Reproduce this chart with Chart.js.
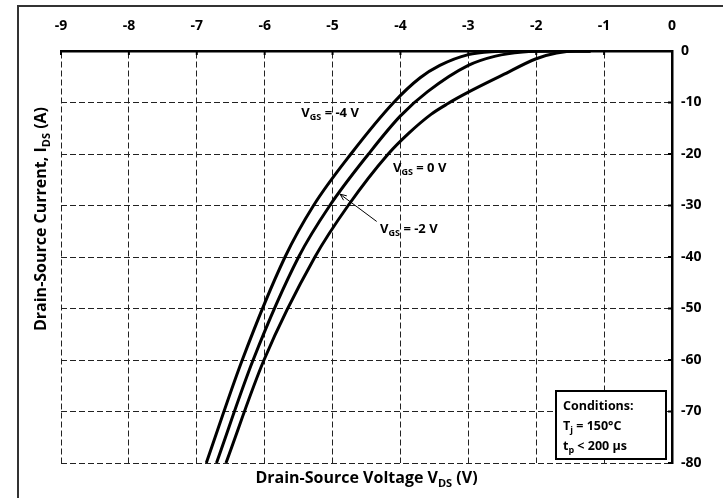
<!DOCTYPE html>
<html>
<head>
<meta charset="utf-8">
<script src="https://cdn.jsdelivr.net/npm/chart.js@4.4.1/dist/chart.umd.min.js"></script>
<style>
  html, body { margin: 0; padding: 0; background: #fff; }
  #wrap { position: relative; width: 723px; height: 498px; }
</style>
</head>
<body>
<div id="wrap"><canvas id="ivChart"></canvas></div>
<script>
// ── Datos ────────────────────────────────────────────────────────────
const xTicks = [-9, -8, -7, -6, -5, -4, -3, -2, -1, 0];
const yTicks = [0, -10, -20, -30, -40, -50, -60, -70, -80];

// VGS = -4 V (curva izquierda)
const vdsNeg4 = [-6.86, -6.33, -5.70, -5.28, -4.73, -4.10, -3.71, -3.42, -3.00, -2.60, -2.28, -1.20];
const idsNeg4 = [-80, -60, -40, -30, -20, -10, -5.2, -2.8, -0.7, -0.1, 0, 0];

// VGS = -2 V (curva central)
const vdsNeg2 = [-6.71, -6.17, -5.50, -5.04, -4.47, -4.00, -3.60, -3.00, -2.60, -2.20, -1.75, -1.20];
const idsNeg2 = [-80, -60, -40, -30, -20, -12.6, -7.9, -2.8, -1.0, -0.2, 0, 0];

// VGS = 0 V (curva derecha)
const vds0 = [-6.57, -6.01, -5.26, -4.77, -4.18, -3.88, -3.55, -3.30, -3.00, -2.50, -2.00, -1.70, -1.42, -1.20];
const ids0 = [-80, -60, -40, -30, -20, -16, -12.3, -10.2, -8.0, -4.7, -1.5, -0.4, 0, 0];

// Etiquetas de las curvas (posición en unidades de datos)
const curveLabels = [
  { main: 'V', sub: 'GS', rest: ' = -4 V', x: -5.46, y: -11.9 },
  { main: 'V', sub: 'GS', rest: ' = 0 V',  x: -4.11, y: -22.5 },
  { main: 'V', sub: 'GS', rest: ' = -2 V', x: -4.30, y: -34.4 }
];
const arrowFrom = { x: -4.35, y: -33.1 };
const arrowTo   = { x: -4.89, y: -27.8 };

const conditions = [
  [{ t: 'Conditions:' }],
  [{ t: 'T' }, { t: 'j', sub: true }, { t: ' = 150°C' }],
  [{ t: 't' }, { t: 'p', sub: true }, { t: ' < 200 µs' }]
];

const FONT = '"Open Sans", Lato, sans-serif';

function toPoints(xs, ys) {
  return xs.map((x, i) => ({ x, y: ys[i] })).sort((a, b) => a.x - b.x);
}

// Dibuja texto con subíndices
function drawRich(ctx, parts, x, y, size, align) {
  const subSize = Math.round(size * 0.68);
  let total = 0;
  parts.forEach(p => {
    ctx.font = 'bold ' + (p.sub ? subSize : size) + 'px ' + FONT;
    p.w = ctx.measureText(p.t).width;
    total += p.w;
  });
  let cx = align === 'center' ? x - total / 2 : x;
  ctx.textBaseline = 'alphabetic';
  ctx.textAlign = 'left';
  parts.forEach(p => {
    ctx.font = 'bold ' + (p.sub ? subSize : size) + 'px ' + FONT;
    ctx.fillText(p.t, cx, p.sub ? y + size * 0.22 : y);
    cx += p.w;
  });
}

const decorPlugin = {
  id: 'decor',
  beforeDraw(chart) {
    const ctx = chart.ctx;
    ctx.save();
    ctx.strokeStyle = '#333';
    ctx.lineWidth = 2;
    ctx.beginPath();
    ctx.moveTo(18, 498);
    ctx.lineTo(18, 6);
    ctx.lineTo(723, 6);
    ctx.stroke();
    ctx.restore();
  },
  afterDatasetsDraw(chart) {
    const ctx = chart.ctx;
    const xs = chart.scales.x, ys = chart.scales.y;
    const area = chart.chartArea;
    ctx.save();
    ctx.fillStyle = '#000';

    // marcas internas en los ejes
    ctx.strokeStyle = '#000';
    ctx.lineWidth = 2;
    xTicks.forEach(v => {
      const px = xs.getPixelForValue(v);
      ctx.beginPath(); ctx.moveTo(px, area.top); ctx.lineTo(px, area.top + 4); ctx.stroke();
    });
    yTicks.forEach(v => {
      const py = ys.getPixelForValue(v);
      ctx.beginPath(); ctx.moveTo(area.right, py); ctx.lineTo(area.right - 4, py); ctx.stroke();
    });

    // títulos de ejes
    drawRich(ctx, [{ t: 'Drain-Source Voltage V' }, { t: 'DS', sub: true }, { t: ' (V)' }],
      (area.left + area.right) / 2, 483, 16, 'center');
    ctx.save();
    ctx.translate(46, 219);
    ctx.rotate(-Math.PI / 2);
    drawRich(ctx, [{ t: 'Drain-Source Current, I' }, { t: 'DS', sub: true }, { t: ' (A)' }],
      0, 0, 16, 'center');
    ctx.restore();

    // etiquetas de curvas
    curveLabels.forEach(l => {
      drawRich(ctx, [{ t: l.main }, { t: l.sub, sub: true }, { t: l.rest }],
        xs.getPixelForValue(l.x), ys.getPixelForValue(l.y) + 5, 13, 'left');
    });

    // flecha
    const ax0 = xs.getPixelForValue(arrowFrom.x), ay0 = ys.getPixelForValue(arrowFrom.y);
    const ax1 = xs.getPixelForValue(arrowTo.x),   ay1 = ys.getPixelForValue(arrowTo.y);
    ctx.lineWidth = 1;
    ctx.beginPath(); ctx.moveTo(ax0, ay0); ctx.lineTo(ax1, ay1); ctx.stroke();
    const ang = Math.atan2(ay1 - ay0, ax1 - ax0);
    ctx.beginPath();
    ctx.moveTo(ax1 - 7 * Math.cos(ang - 0.4), ay1 - 7 * Math.sin(ang - 0.4));
    ctx.lineTo(ax1, ay1);
    ctx.lineTo(ax1 - 7 * Math.cos(ang + 0.4), ay1 - 7 * Math.sin(ang + 0.4));
    ctx.stroke();

    // cuadro de condiciones
    const bx = area.right - 116, by = area.bottom - 72, bw = 110, bh = 68;
    ctx.fillStyle = '#fff';
    ctx.fillRect(bx, by, bw, bh);
    ctx.lineWidth = 2;
    ctx.strokeRect(bx, by, bw, bh);
    ctx.fillStyle = '#000';
    conditions.forEach((line, i) => {
      drawRich(ctx, line, bx + 7, by + 19 + i * 20, 12.5, 'left');
    });
    ctx.restore();
  }
};

const lineStyle = {
  showLine: true,
  borderColor: '#000',
  borderWidth: 3,
  pointRadius: 0,
  cubicInterpolationMode: 'monotone',
  fill: false
};

new Chart(document.getElementById('ivChart'), {
  type: 'scatter',
  data: {
    datasets: [
      Object.assign({ label: 'VGS = -4 V', data: toPoints(vdsNeg4, idsNeg4) }, lineStyle),
      Object.assign({ label: 'VGS = -2 V', data: toPoints(vdsNeg2, idsNeg2) }, lineStyle),
      Object.assign({ label: 'VGS = 0 V',  data: toPoints(vds0, ids0) }, lineStyle)
    ]
  },
  options: {
    responsive: true,
    maintainAspectRatio: false,
    animation: false,
    layout: { padding: { left: 61, bottom: 35, top: 0, right: 0 } },
    plugins: { legend: { display: false }, tooltip: { enabled: false } },
    scales: {
      x: {
        type: 'linear', position: 'top', min: -9, max: 0,
        afterBuildTicks: s => { s.ticks = xTicks.map(v => ({ value: v })); },
        afterFit: s => { s.height = 51; },
        grid: { color: '#222', lineWidth: 1, drawTicks: false },
        border: { display: true, color: '#000', width: 2.5, dash: [6, 3] },
        ticks: { color: '#000', padding: 17, font: { family: FONT, size: 14, weight: 'bold' } }
      },
      y: {
        type: 'linear', position: 'right', min: -80, max: 0,
        afterBuildTicks: s => { s.ticks = yTicks.map(v => ({ value: v })); },
        afterFit: s => { s.width = 51; },
        grid: { color: '#222', lineWidth: 1, drawTicks: false },
        border: { display: true, color: '#000', width: 2.5, dash: [6, 3] },
        ticks: { color: '#000', padding: 9, font: { family: FONT, size: 14, weight: 'bold' } }
      }
    }
  },
  plugins: [decorPlugin]
});
</script>
</body>
</html>
